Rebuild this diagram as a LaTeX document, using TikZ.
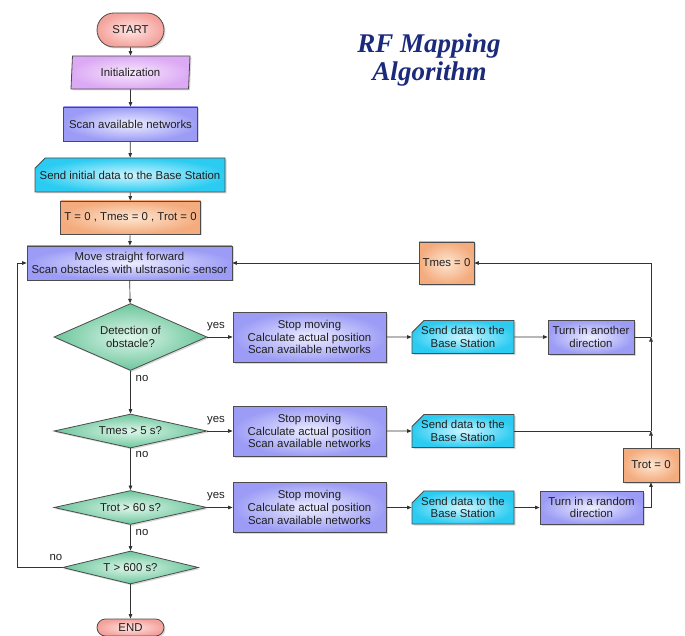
\documentclass[tikz,border=0pt]{standalone}
\usepackage{fontspec}
\setmainfont{Liberation Sans}
\newfontfamily\titlefont{Liberation Serif}
\usetikzlibrary{shapes.geometric,shapes.misc,arrows.meta,shadows}
\definecolor{pinkO}{HTML}{F4A29C}\definecolor{pinkI}{HTML}{FFE6E4}
\definecolor{lavO}{HTML}{DCAAF4}\definecolor{lavI}{HTML}{F7E8FD}
\definecolor{bluO}{HTML}{9C9CF6}\definecolor{bluI}{HTML}{EEEEFF}
\definecolor{cyaO}{HTML}{2CCCF2}\definecolor{cyaI}{HTML}{D0F6FF}
\definecolor{oraO}{HTML}{F4AC7E}\definecolor{oraI}{HTML}{FDE6D2}
\definecolor{grnO}{HTML}{6CC69C}\definecolor{grnI}{HTML}{DEF6EA}
\definecolor{titleblue}{HTML}{1B2A7A}
\newcommand\diafont{\fontsize{11.4}{12.7}\selectfont}
\tikzset{
  box/.style={draw=black!70, line width=0.8pt, font=\diafont, text=black!88,
    inner sep=0pt, align=center,
    drop shadow={shadow xshift=1.5pt, shadow yshift=-1.5pt, opacity=0.15, fill=black}},
  termbox/.style={box, rounded rectangle, inner color=pinkI, outer color=pinkO},
  iobox/.style={box, trapezium, trapezium left angle=80, trapezium right angle=100,
    trapezium stretches body, inner color=lavI, outer color=lavO},
  procbox/.style={box, rectangle, inner color=bluI, outer color=bluO},
  sendbox/.style={box, chamfered rectangle, chamfered rectangle corners=north west,
    chamfered rectangle xsep=6pt, chamfered rectangle ysep=6pt,
    inner color=cyaI, outer color=cyaO},
  setbox/.style={box, rectangle, inner color=oraI, outer color=oraO},
  decbox/.style={box, diamond, inner color=grnI, outer color=grnO},
  conn/.style={draw=black!80, line width=0.7pt},
  arr/.style={conn, -{Triangle[length=4.5pt,width=3.6pt]}},
  lbl/.style={font=\diafont, text=black!88, inner sep=0pt}
}
\begin{document}
\begin{tikzpicture}[x=1pt,y=-1pt]
\useasboundingbox (0,0) rectangle (685,636);
% title
\node[font=\titlefont\bfseries\itshape\fontsize{27}{30}\selectfont, text=titleblue, anchor=base] (title1) at (429,53) {RF Mapping};
\node[font=\titlefont\bfseries\itshape\fontsize{27}{30}\selectfont, text=titleblue, anchor=base] (title2) at (429.5,81) {Algorithm};
% main column
\node[termbox, minimum width=67pt, minimum height=34pt] (start) at (130.5,30) {START};
\node[iobox, minimum width=119pt, minimum height=33pt] (init) at (130.5,72.5) {Initialization};
\node[procbox, minimum width=134pt, minimum height=34pt] (scan) at (130.5,124) {Scan available networks};
\node[sendbox, minimum width=190pt, minimum height=34pt] (send0) at (130,175) {Send initial data to the Base Station};
\node[setbox, minimum width=140pt, minimum height=33pt] (t0) at (130.5,217.5) {T = 0 , Tmes = 0 , Trot = 0};
\node[procbox, minimum width=205pt, minimum height=34pt] (move) at (129.5,263) {Move straight forward\\Scan obstacles with ulstrasonic sensor};
\node[decbox, shape aspect=2.28, minimum width=153pt, minimum height=67pt] (det) at (130.5,337) {Detection of\\obstacle?};
\node[decbox, shape aspect=4.5, minimum width=153pt, minimum height=34pt] (tmes) at (130.5,431) {Tmes > 5 s?};
\node[decbox, shape aspect=4.5, minimum width=153pt, minimum height=34pt] (trot) at (130.5,507.5) {Trot > 60 s?};
\node[decbox, shape aspect=4.1, minimum width=136pt, minimum height=33pt] (tend) at (130.5,567.5) {T > 600 s?};
\node[termbox, minimum width=67pt, minimum height=17pt] (end) at (130.5,627.5) {END};
% branches
\node[procbox, minimum width=153pt, minimum height=50pt] (stop1) at (309.5,337) {Stop moving\\Calculate actual position\\Scan available networks};
\node[procbox, minimum width=153pt, minimum height=50pt] (stop2) at (309.5,431) {Stop moving\\Calculate actual position\\Scan available networks};
\node[procbox, minimum width=153pt, minimum height=50pt] (stop3) at (309.5,507.5) {Stop moving\\Calculate actual position\\Scan available networks};
\node[sendbox, minimum width=102pt, minimum height=33pt] (send1) at (463,337) {Send data to the\\Base Station};
\node[sendbox, minimum width=102pt, minimum height=33pt] (send2) at (463,431) {Send data to the\\Base Station};
\node[sendbox, minimum width=102pt, minimum height=33pt] (send3) at (463,507.5) {Send data to the\\Base Station};
\node[procbox, minimum width=86pt, minimum height=34pt] (turn1) at (591,337) {Turn in another\\direction};
\node[procbox, minimum width=103pt, minimum height=33pt] (turn2) at (591.5,507.5) {Turn in a random\\direction};
\node[setbox, minimum width=56pt, minimum height=34pt] (trot0) at (651,465) {Trot = 0};
\node[setbox, minimum width=55pt, minimum height=42pt] (tmes0) at (446.5,263) {Tmes = 0};
\coordinate (j2) at (651,431);
\coordinate (j1) at (651,337);
\coordinate (jtop) at (651,263);
\coordinate (jleft) at (17,567.5);
% main connectors
\draw[arr] (start) -- (init);
\draw[arr] (init) -- (scan);
\draw[arr] (scan) -- (send0);
\draw[arr] (send0) -- (t0);
\draw[arr] (t0) -- (move);
\draw[arr] (move) -- (det);
\draw[arr] (det) -- (tmes);
\draw[arr] (tmes) -- (trot);
\draw[arr] (trot) -- (tend);
\draw[arr] (tend) -- (end);
\draw[arr] (tend.west) -- (jleft) |- (move.west);
\draw[arr] (det) -- (stop1);
\draw[arr] (tmes) -- (stop2);
\draw[arr] (trot) -- (stop3);
\draw[arr] (stop1) -- (send1);
\draw[arr] (stop2) -- (send2);
\draw[arr] (stop3) -- (send3);
\draw[arr] (send1) -- (turn1);
\draw[arr] (send3) -- (turn2);
\draw[conn] (turn1.east) -- (j1);
\draw[conn] (send2.east) -- (j2);
\draw[arr] (turn2.east) -| (trot0.south);
\draw[arr] (trot0.north) -- (j2);
\draw[arr] (j2) -- (j1);
\draw[arr] (j1) -- (jtop) -- (tmes0.east);
\draw[arr] (tmes0.west) -- (move.east);
% labels
\node[lbl] (y1) at (216,327) {yes};
\node[lbl] (y2) at (216,421) {yes};
\node[lbl] (y3) at (216,497) {yes};
\node[lbl] (n1) at (142,378) {no};
\node[lbl] (n2) at (142,454) {no};
\node[lbl] (n3) at (142,532) {no};
\node[lbl] (n4) at (56,557) {no};
\end{tikzpicture}
\end{document}
